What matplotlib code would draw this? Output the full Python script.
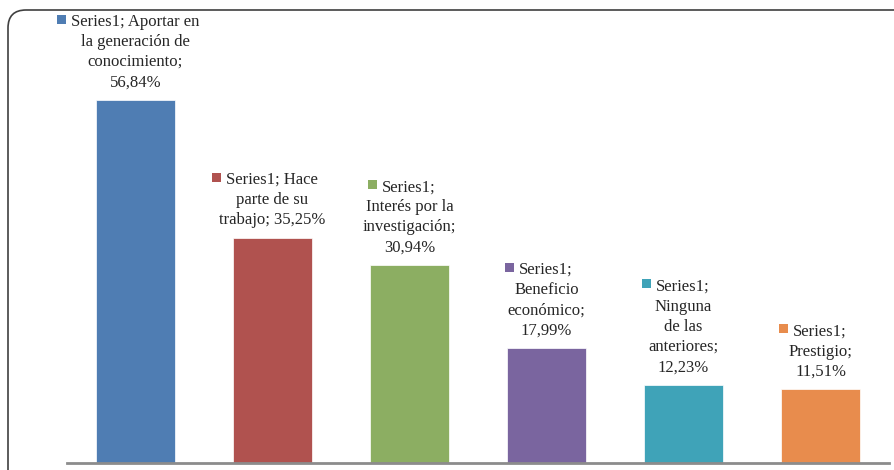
import matplotlib
matplotlib.use('Agg')
import matplotlib.pyplot as plt
import matplotlib.transforms as mtransforms
from matplotlib.patches import Rectangle, FancyBboxPatch
from matplotlib.offsetbox import TextArea, DrawingArea, HPacker, VPacker, AnnotationBbox
#--------------------------------------------------------------------------------------------------------------------
# Data
#--------------------------------------------------------------------------------------------------------------------
categories = ['Aportar en la generación de conocimiento', 'Hace parte de su trabajo', 'Interés por la investigación',
              'Beneficio económico', 'Ninguna de las anteriores', 'Prestigio']
values = [56.84, 35.25, 30.94, 17.99, 12.23, 11.51]
label_lines = [['Series1; Aportar en', 'la generación de', 'conocimiento;', '56,84%'],
               ['Series1; Hace', 'parte de su', 'trabajo; 35,25%'],
               ['Series1;', 'Interés por la', 'investigación;', '30,94%'],
               ['Series1;', 'Beneficio', 'económico;', '17,99%'],
               ['Series1;', 'Ninguna', 'de las', 'anteriores;', '12,23%'],
               ['Series1;', 'Prestigio;', '11,51%']]
colors = ['#4F7DB3', '#B0524F', '#8CAE62', '#7A659F', '#3FA3B8', '#E88C4D']
#--------------------------------------------------------------------------------------------------------------------
# Figure
#--------------------------------------------------------------------------------------------------------------------
fig = plt.figure(figsize=(8.94, 4.70), dpi=100)
ax = fig.add_axes([67/894, 7/470, 822/894, 451/470])
ax.bar(range(len(values)), values, width=0.57, color=colors, edgecolor='white', linewidth=0.5)
ax.set_xlim(-0.5, len(values) - 0.5)
ax.set_ylim(0, 70.6)
for s in ['top', 'left', 'right']:
    ax.spines[s].set_visible(False)
ax.spines['bottom'].set_color('#8C8C8C')
ax.spines['bottom'].set_linewidth(2)
ax.set_xticks([])
ax.set_yticks([])
ax.patch.set_alpha(0)

tprops = dict(fontfamily='Liberation Serif', fontsize=12, color='#262626')
for i, v in enumerate(values):
    key = DrawingArea(6, 8, 0, 0)
    key.add_artist(Rectangle((0, 1.5), 6.5, 6.5, facecolor=colors[i], edgecolor='none'))
    spacer = DrawingArea(6.5, 8, 0, 0)
    first = HPacker(children=[key, TextArea(label_lines[i][0], textprops=tprops), spacer],
                    align='baseline', pad=0, sep=4)
    rows = [first] + [TextArea(t, textprops=tprops) for t in label_lines[i][1:]]
    box = VPacker(children=rows, align='center', pad=0, sep=3)
    ab = AnnotationBbox(box, (i, v), xybox=(0, 7), xycoords='data', boxcoords='offset points',
                        box_alignment=(0.5, 0), frameon=False, pad=0)
    ax.add_artist(ab)
#--------------------------------------------------------------------------------------------------------------------
# Rounded frame
#--------------------------------------------------------------------------------------------------------------------
frame = FancyBboxPatch((8, -30), 910, 490, boxstyle='round,pad=0,rounding_size=18',
                       transform=mtransforms.IdentityTransform(), facecolor='none',
                       edgecolor='#404040', linewidth=1.2)
fig.add_artist(frame)

plt.savefig('out.png', dpi=100)
